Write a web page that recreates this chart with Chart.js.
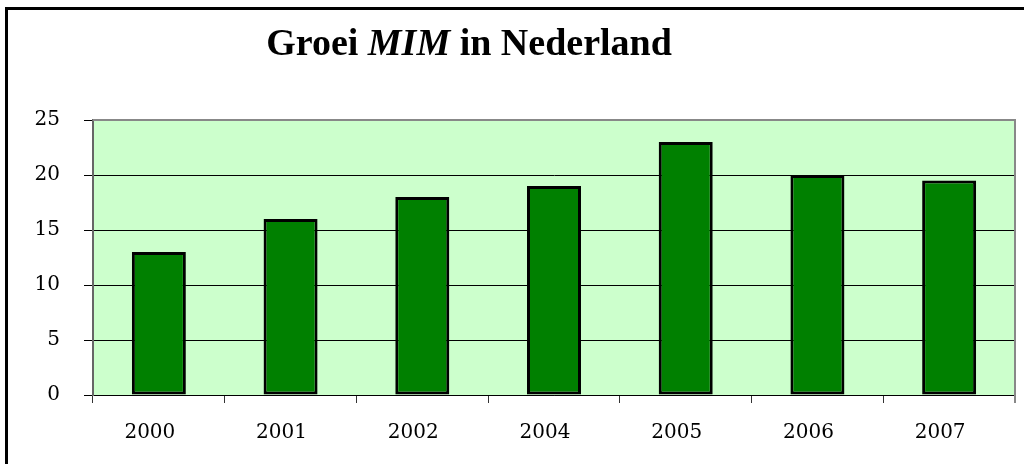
<!DOCTYPE html>
<html>
<head>
<meta charset="utf-8">
<script src="https://cdn.jsdelivr.net/npm/chart.js@4/dist/chart.umd.min.js"></script>
<style>
html,body{margin:0;padding:0;background:#fff;}
#wrap{width:1024px;height:464px;position:relative;}
</style>
</head>
<body>
<div id="wrap"><canvas id="c" width="1024" height="464"></canvas></div>
<script>
const categories = ["2000","2001","2002","2004","2005","2006","2007"];
const values = [13,16,18,19,23,20,19.5];
const yTicks = [0,5,10,15,20,25];
const titleParts = [["Groei ","bold"],["MIM","italic bold"],[" in Nederland","bold"]];

const tickFont = {family:"'DejaVu Serif', serif", size:20};

const decor = {
  id:'decor',
  beforeDraw(chart){
    const ctx = chart.ctx, a = chart.chartArea;
    ctx.save();
    ctx.fillStyle = '#fff';
    ctx.fillRect(0,0,chart.width,chart.height);
    ctx.fillStyle = '#CCFFCC';
    ctx.fillRect(a.left,a.top,a.right-a.left,a.bottom-a.top);
    ctx.fillStyle = '#000';
    ctx.fillRect(5,7,chart.width-5,3);
    ctx.fillRect(5,7,3,chart.height-7);
    ctx.restore();
  },
  afterDatasetsDraw(chart){
    const ctx = chart.ctx, a = chart.chartArea;
    ctx.save();
    ctx.strokeStyle = '#888';
    ctx.lineWidth = 2;
    ctx.beginPath();
    ctx.moveTo(a.left, a.top);
    ctx.lineTo(a.right, a.top);
    ctx.lineTo(a.right, a.bottom+8);
    ctx.stroke();
    ctx.restore();
  },
  afterDraw(chart){
    const ctx = chart.ctx;
    ctx.save();
    ctx.fillStyle = '#000';
    ctx.textBaseline = 'alphabetic';
    const size = 38, fam = "'Liberation Serif', serif";
    let total = 0;
    const widths = titleParts.map(([t,s])=>{ctx.font = s+' '+size+'px '+fam; const w = ctx.measureText(t).width; total += w; return w;});
    let x = 469 - total/2;
    titleParts.forEach(([t,s],i)=>{ctx.font = s+' '+size+'px '+fam; ctx.fillText(t,x,55); x += widths[i];});
    ctx.restore();
  }
};

new Chart(document.getElementById('c'), {
  type:'bar',
  data:{
    labels:categories,
    datasets:[{
      data:values,
      backgroundColor:'#008000',
      borderColor:'#000',
      borderWidth:3,
      borderSkipped:false,
      barPercentage:0.41,
      categoryPercentage:1
    }]
  },
  options:{
    responsive:false,
    animation:false,
    layout:{padding:{top:120,right:9,left:0,bottom:0}},
    plugins:{legend:{display:false},title:{display:false},tooltip:{enabled:false}},
    scales:{
      x:{
        offset:true,
        grid:{offset:true,drawOnChartArea:false,drawTicks:true,tickLength:8,color:'#333',tickWidth:1},
        border:{display:true,color:'#000',width:1},
        ticks:{color:'#000',font:tickFont,padding:18,maxRotation:0,labelOffset:-9},
        afterFit(s){s.height = 69;}
      },
      y:{
        min:0,max:25,
        afterBuildTicks(s){s.ticks = yTicks.map(v=>({value:v}));},
        grid:{color:'#000',lineWidth:1,tickLength:9,drawTicks:true},
        border:{display:true,color:'#666',width:2},
        ticks:{color:'#000',font:tickFont,padding:24},
        afterFit(s){s.width = 93;}
      }
    }
  },
  plugins:[decor]
});
</script>
</body>
</html>
